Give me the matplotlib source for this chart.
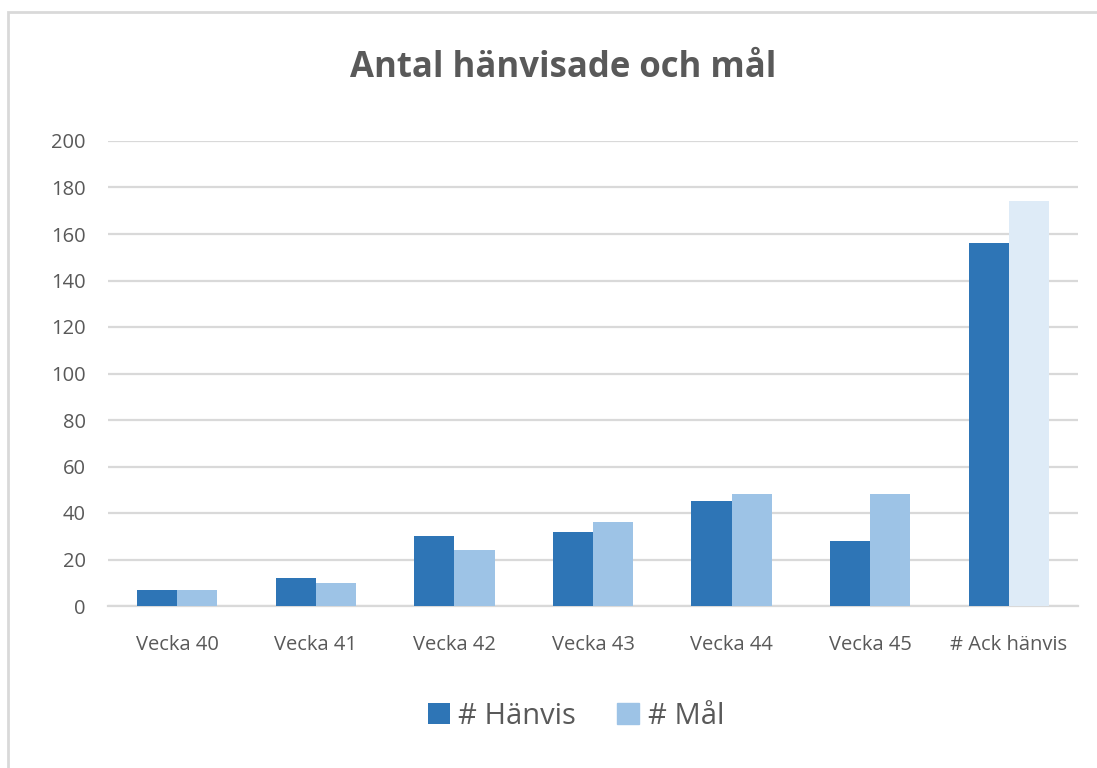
import matplotlib.pyplot as plt
import numpy as np
from matplotlib.patches import Rectangle

categories = ['Vecka 40', 'Vecka 41', 'Vecka 42', 'Vecka 43', 'Vecka 44', 'Vecka 45', '# Ack hänvis']
hanvis = [7, 12, 30, 32, 45, 28, 156]
mal = [7, 10, 24, 36, 48, 48, 174]

dark = '#2E75B6'
light = '#9DC3E6'
lightest = '#DEEBF7'
text_gray = '#595959'
grid_gray = '#D9D9D9'

plt.rcParams['font.family'] = ['Open Sans', 'DejaVu Sans']

fig = plt.figure(figsize=(10.97, 7.68), dpi=100)
fig.patches.append(Rectangle((8 / 1097, -0.01), 1.0, 1 - 12 / 768 + 0.01,
                             transform=fig.transFigure, fill=False,
                             edgecolor=grid_gray, linewidth=2))

ax = fig.add_axes([108 / 1097, 1 - 606 / 768, (1078 - 108) / 1097, (606 - 141) / 768])

x = np.arange(len(categories))
width = 0.29
mal_colors = [light] * (len(categories) - 1) + [lightest]
ax.bar(x - width / 2, hanvis, width, color=dark, label='# Hänvis', zorder=3)
ax.bar(x + width / 2, mal, width, color=mal_colors, label='# Mål', zorder=3)

ax.set_xlim(-0.5, len(categories) - 0.5)
ax.set_ylim(0, 200)
ax.set_yticks(np.arange(0, 201, 20))
ax.set_xticks(x)
ax.set_xticklabels(categories)
ax.yaxis.grid(True, color=grid_gray, linewidth=1.6, zorder=0)
ax.set_axisbelow(True)
for side in ('top', 'right', 'left'):
    ax.spines[side].set_visible(False)
ax.spines['bottom'].set_color(grid_gray)
ax.spines['bottom'].set_linewidth(1.6)
ax.tick_params(axis='both', length=0, colors=text_gray, labelsize=14.5)
ax.tick_params(axis='y', pad=16)
ax.tick_params(axis='x', pad=21)

fig.text(0.513, 1 - 68 / 768, 'Antal hänvisade och mål', ha='center', va='center',
         fontsize=25, fontweight='bold', color=text_gray)

leg = fig.legend(loc='center', bbox_to_anchor=(0.525, 1 - 716 / 768), ncol=2,
                 frameon=False, fontsize=21, handlelength=0.75, handleheight=0.75,
                 handletextpad=0.3, columnspacing=1.4, labelcolor=text_gray)
leg.legend_handles[1].set_color(light)

fig.savefig('out.png', dpi=100)
